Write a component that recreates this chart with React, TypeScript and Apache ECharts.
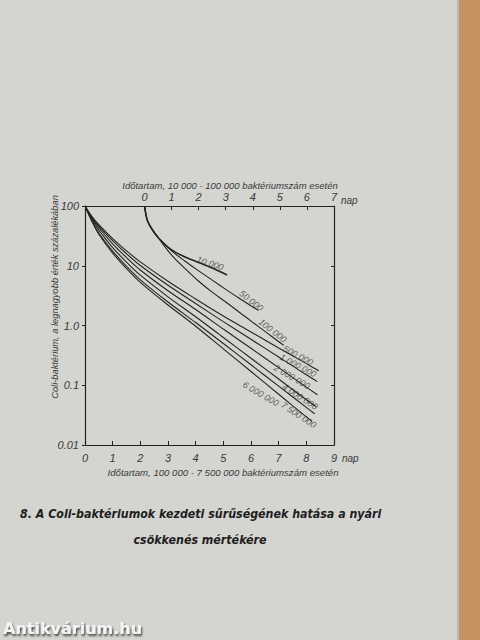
import React, { useEffect, useRef } from 'react';
import * as echarts from 'echarts';

// Tick labels
const bottomTicks = [0, 1, 2, 3, 4, 5, 6, 7, 8, 9];
const topTicks = [0, 1, 2, 3, 4, 5, 6, 7];
const yTickLabels = ['0.01', '0.1', '1.0', '10', '100'];

// Lower family: days on bottom axis (100 000 - 7 500 000), value in % of max
const s500k = [[0, 100], [0.25, 66.7], [0.5, 48.6], [1, 28.4], [1.5, 17.7], [2, 11.6], [3, 5.5], [4, 2.78], [5, 1.44], [6, 0.78], [7, 0.42], [8, 0.23], [8.45, 0.175]];
const s1M = [[0, 100], [0.25, 65], [0.5, 46.2], [1, 26.4], [1.5, 15.9], [2, 10.1], [3, 4.71], [4, 2.33], [5, 1.16], [6, 0.587], [7, 0.297], [8, 0.15], [8.4, 0.115]];
const s2M = [[0, 100], [0.25, 63.1], [0.5, 43.2], [1, 23.3], [1.5, 13.7], [2, 8.49], [3, 3.81], [4, 1.85], [5, 0.873], [6, 0.415], [7, 0.197], [8, 0.0931], [8.4, 0.0692]];
const s4M = [[0, 100], [0.25, 59.8], [0.5, 39.4], [1, 20.1], [1.5, 11.5], [2, 6.95], [3, 3.02], [4, 1.4], [5, 0.63], [6, 0.283], [7, 0.127], [8, 0.0571], [8.35, 0.0437]];
const s6M = [[0, 100], [0.25, 56.8], [0.5, 35.3], [1, 17.6], [1.5, 9.79], [2, 5.82], [3, 2.47], [4, 1.12], [5, 0.5], [6, 0.22], [7, 0.0968], [8, 0.0426], [8.3, 0.0333]];
const s7_5M = [[0, 100], [0.25, 55.2], [0.5, 33.6], [1, 16.3], [1.5, 8.95], [2, 5.26], [3, 2.2], [4, 0.973], [5, 0.406], [6, 0.17], [7, 0.0708], [8, 0.0295], [8.2, 0.0248]];

// Upper family: days on top axis (10 000 - 100 000)
const s10k = [[0, 100], [0.1, 58], [0.25, 42.8], [0.5, 29.7], [1, 18.4], [1.5, 14], [2, 11.3], [2.5, 9.16], [3.05, 7.0]];
const s50k = [[0, 100], [0.1, 58], [0.25, 42.8], [0.5, 29.7], [1, 17.7], [1.5, 11.9], [2, 8.2], [2.5, 5.75], [3, 4.03], [3.5, 2.85], [4, 2.04], [4.2, 1.79]];
const s100k = [[0, 100], [0.1, 58], [0.25, 42.8], [0.5, 29.7], [1, 15.1], [1.5, 8.95], [2, 5.51], [2.5, 3.61], [3, 2.47], [3.5, 1.67], [4, 1.13], [4.5, 0.766], [5, 0.52], [5.15, 0.465]];

const lowerNames = ['500 000', '1 000 000', '2 000 000', '4 000 000', '6 000 000', '7 500 000'];
const upperNames = ['10 000', '50 000', '100 000'];
const lowerData = [s500k, s1M, s2M, s4M, s6M, s7_5M];
const upperData = [s10k, s50k, s100k];

// Curve label anchors (day, value)
const lowerLabelAnchors = [[7.7, 0.315], [7.7, 0.213], [7.48, 0.138], [7.77, 0.064], [6.35, 0.0714], [7.72, 0.0318]];
const upperLabelAnchors = [[2.42, 10.9], [3.94, 2.6], [4.73, 0.82]];
const lowerLabelAngles = [-28, -28, -30, -33, -30, -33];
const upperLabelAngles = [-18, -38, -38];

const ink = '#232323';
const textInk = '#3a3a3a';
const font = '"Liberation Sans", Arial, sans-serif';
const captionFont = '"DejaVu Sans Condensed", "DejaVu Sans", sans-serif';

export default function App() {
  const ref = useRef<HTMLDivElement>(null);
  useEffect(() => {
    if (!ref.current) return;
    const chart = echarts.init(ref.current, undefined, { renderer: 'svg' });
    const axisText = { color: textInk, fontStyle: 'italic', fontSize: 11, fontFamily: font };
    const lineSeries = (name: string, data: number[][], xi: number, w = 1.1) => ({
      type: 'line', name, data, xAxisIndex: xi, yAxisIndex: 0, smooth: 0.35,
      symbol: 'none', lineStyle: { color: ink, width: w }, silent: true,
    });
    const labelSeries = (names: string[], anchors: number[][], angles: number[], xi: number) => ({
      type: 'scatter', xAxisIndex: xi, yAxisIndex: 0, symbolSize: 0, silent: true,
      data: anchors.map((a, i) => ({
        value: a, name: names[i],
        label: { show: true, position: 'inside', rotate: angles[i], formatter: names[i],
          color: textInk, fontStyle: 'italic', fontSize: 9, fontFamily: font },
      })),
    });
    chart.setOption({
      animation: false,
      backgroundColor: '#d4d4d0',
      grid: { left: 85, top: 206, width: 249, height: 239 },
      xAxis: [
        { type: 'value', position: 'bottom', min: 0, max: 9, interval: 1,
          axisLine: { show: true, onZero: false, lineStyle: { color: ink, width: 1.2 } },
          axisTick: { show: true, inside: true, length: 4, lineStyle: { color: ink } },
          axisLabel: { ...axisText, margin: 7, formatter: (v: number) => String(bottomTicks[Math.round(v)]) },
          splitLine: { show: false } },
        { type: 'value', position: 'top', min: -2.2, max: 7,
          axisLine: { show: true, onZero: false, lineStyle: { color: ink, width: 1.2 } },
          axisTick: { show: true, inside: true, length: 4, customValues: topTicks, lineStyle: { color: ink } },
          axisLabel: { ...axisText, margin: 4, customValues: topTicks },
          splitLine: { show: false } },
      ],
      yAxis: [
        { type: 'log', logBase: 10, min: 0.01, max: 100, position: 'left',
          axisLine: { show: true, onZero: false, lineStyle: { color: ink, width: 1.2 } },
          axisTick: { show: true, length: 3, lineStyle: { color: ink } },
          axisLabel: { ...axisText, margin: 6,
            formatter: (v: number) => yTickLabels[Math.round(Math.log10(v)) + 2] },
          splitLine: { show: false } },
        { type: 'log', logBase: 10, min: 0.01, max: 100, position: 'right',
          axisLine: { show: true, onZero: false, lineStyle: { color: ink, width: 1.2 } },
          axisTick: { show: true, inside: true, length: 3, lineStyle: { color: ink } },
          axisLabel: { show: false }, splitLine: { show: false } },
      ],
      series: [
        ...lowerData.map((d, i) => lineSeries(lowerNames[i], d, 0)),
        ...upperData.map((d, i) => lineSeries(upperNames[i], d, 1, i === 0 ? 1.6 : 1.1)),
        labelSeries(lowerNames, lowerLabelAnchors, lowerLabelAngles, 0),
        labelSeries(upperNames, upperLabelAnchors, upperLabelAngles, 1),
      ],
      graphic: [
        { type: 'rect', shape: { x: 459, y: 0, width: 21, height: 640 }, style: { fill: '#c3925f' } },
        { type: 'rect', shape: { x: 457, y: 0, width: 2, height: 640 }, style: { fill: '#b9b7b0' } },
        { type: 'text', x: 230, y: 185, style: { text: 'Időtartam, 10 000 - 100 000 baktériumszám esetén', fill: textInk,
          font: `italic 9.5px ${font}`, align: 'center', verticalAlign: 'middle' } },
        { type: 'text', x: 341, y: 200, style: { text: 'nap', fill: textInk, font: `italic 10px ${font}`, align: 'left', verticalAlign: 'middle' } },
        { type: 'text', x: 342, y: 458, style: { text: 'nap', fill: textInk, font: `italic 10px ${font}`, align: 'left', verticalAlign: 'middle' } },
        { type: 'text', x: 223, y: 472, style: { text: 'Időtartam, 100 000 - 7 500 000 baktériumszám esetén', fill: textInk,
          font: `italic 9.6px ${font}`, align: 'center', verticalAlign: 'middle' } },
        { type: 'text', x: 55, y: 297, rotation: Math.PI / 2, style: { text: 'Coli-baktérium, a legnagyobb érték százalékában', fill: textInk,
          font: `italic 9.3px ${font}`, align: 'center', verticalAlign: 'middle' } },
        { type: 'text', x: 20, y: 514, style: { text: '8. A Coli-baktériumok kezdeti sűrűségének hatása a nyári', fill: '#1e1e1e',
          font: `italic bold 12.3px ${captionFont}`, align: 'left', verticalAlign: 'middle' } },
        { type: 'text', x: 200, y: 540, style: { text: 'csökkenés mértékére', fill: '#1e1e1e',
          font: `italic bold 12.3px ${captionFont}`, align: 'center', verticalAlign: 'middle' } },
        { type: 'text', x: 3, y: 628, style: { text: 'Antikvárium.hu', fill: '#f4f4f4',
          font: `bold 16px "DejaVu Sans", sans-serif`, align: 'left', verticalAlign: 'middle',
          textShadowColor: 'rgba(0,0,0,0.7)', textShadowBlur: 2, textShadowOffsetX: 1, textShadowOffsetY: 2 } },
      ],
    });
    return () => chart.dispose();
  }, []);
  return <div ref={ref} style={{ position: 'absolute', left: 0, top: 0, width: 480, height: 640 }} />;
}
